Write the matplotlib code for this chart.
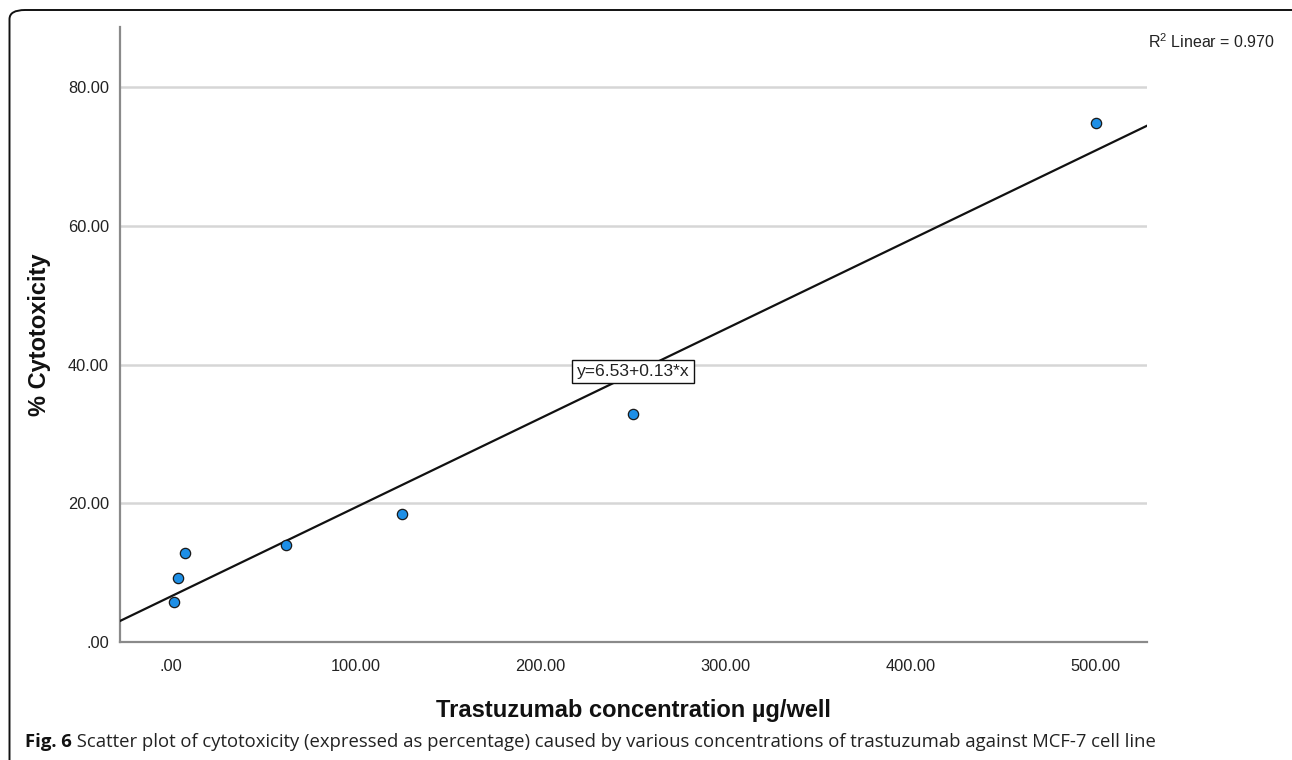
import numpy as np
import matplotlib
matplotlib.use("Agg")
import matplotlib.pyplot as plt
from matplotlib.patches import FancyBboxPatch

# ---- data ----
concentration = [1.95, 3.9, 7.8, 62.5, 125.0, 250.0, 500.0]
cytotoxicity = [5.8, 9.3, 12.9, 14.0, 18.5, 32.9, 74.8]
x_ticks = [0, 100, 200, 300, 400, 500]
x_tick_labels = [".00", "100.00", "200.00", "300.00", "400.00", "500.00"]
y_ticks = [0, 20, 40, 60, 80]
y_tick_labels = [".00", "20.00", "40.00", "60.00", "80.00"]
fit_intercept_label = 6.53
fit_slope_label = 0.13
r2_label = 0.970
x_label = "Trastuzumab concentration µg/well"
y_label = "% Cytotoxicity"
caption_bold = "Fig. 6"
caption_rest = (" Scatter plot of cytotoxicity (expressed as percentage) caused by various "
                "concentrations of trastuzumab against MCF-7 cell line")

plt.rcParams["font.family"] = ["Liberation Sans", "DejaVu Sans"]
plt.rcParams["mathtext.fontset"] = "custom"
plt.rcParams["mathtext.rm"] = "Liberation Sans"

W, H = 1292, 760
fig = plt.figure(figsize=(W / 100, H / 100), dpi=100)

# outer rounded frame
frame = FancyBboxPatch((9.5 / W, -20 / H), (W + 20 - 9.5) / W, (H - 10 + 20) / H,
                       boxstyle="round,pad=0,rounding_size=0.012",
                       transform=fig.transFigure, fill=False, edgecolor="#111111",
                       linewidth=1.4, clip_on=False)
fig.patches.append(frame)

ax = fig.add_axes([120 / W, (H - 642) / H, (1147 - 120) / W, (642 - 27) / H])
ax.set_xlim(-27.3, 527.8)
ax.set_ylim(0, 88.7)

for s in ["top", "right"]:
    ax.spines[s].set_visible(False)
for s in ["left", "bottom"]:
    ax.spines[s].set_color("#8a8a8a")
    ax.spines[s].set_linewidth(1.6)

ax.set_yticks(y_ticks)
ax.set_yticklabels(y_tick_labels)
ax.set_xticks(x_ticks)
ax.set_xticklabels(x_tick_labels)
ax.tick_params(axis="both", length=0, labelsize=11.8, colors="#222222")
ax.tick_params(axis="y", pad=8)
ax.tick_params(axis="x", pad=12)
ax.yaxis.grid(True, color="#d6d6d6", linewidth=1.8)
ax.set_axisbelow(True)

# fit line
xs = np.array(concentration)
ys = np.array(cytotoxicity)
slope, intercept = np.polyfit(xs, ys, 1)
xl = np.array(ax.get_xlim())
ax.plot(xl, intercept + slope * xl, color="#111111", linewidth=1.6, zorder=3)

ax.scatter(xs, ys, s=55, facecolor="#1e8fe6", edgecolor="#1a1a1a", linewidth=0.9, zorder=4)

ax.text(250, 39, f"y={fit_intercept_label:.2f}+{fit_slope_label:.2f}*x", fontsize=12.6,
        ha="center", va="center", color="#222222", zorder=5,
        bbox=dict(boxstyle="square,pad=0.25", facecolor="white", edgecolor="#111111", linewidth=1.0))

ax.set_xlabel(x_label, fontsize=17, fontweight="bold", color="#111111", labelpad=18)
ax.set_ylabel(y_label, fontsize=17, fontweight="bold", color="#111111", labelpad=12)

fig.text(1148 / W, 1 - 42 / H, r"R$^2$" + f" Linear = {r2_label:.3f}", fontsize=11.5,
         ha="left", va="center", color="#222222")

# caption
t1 = fig.text(25 / W, 1 - 742 / H, caption_bold, fontsize=13.3, fontweight="bold",
              family=["Open Sans", "DejaVu Sans"], ha="left", va="center", color="#111111")
fig.canvas.draw()
bb = t1.get_window_extent()
fig.text(bb.x1 / W, 1 - 742 / H, caption_rest, fontsize=13.3,
         family=["Open Sans", "DejaVu Sans"], ha="left", va="center", color="#222222")

fig.savefig("out.png", dpi=100)
